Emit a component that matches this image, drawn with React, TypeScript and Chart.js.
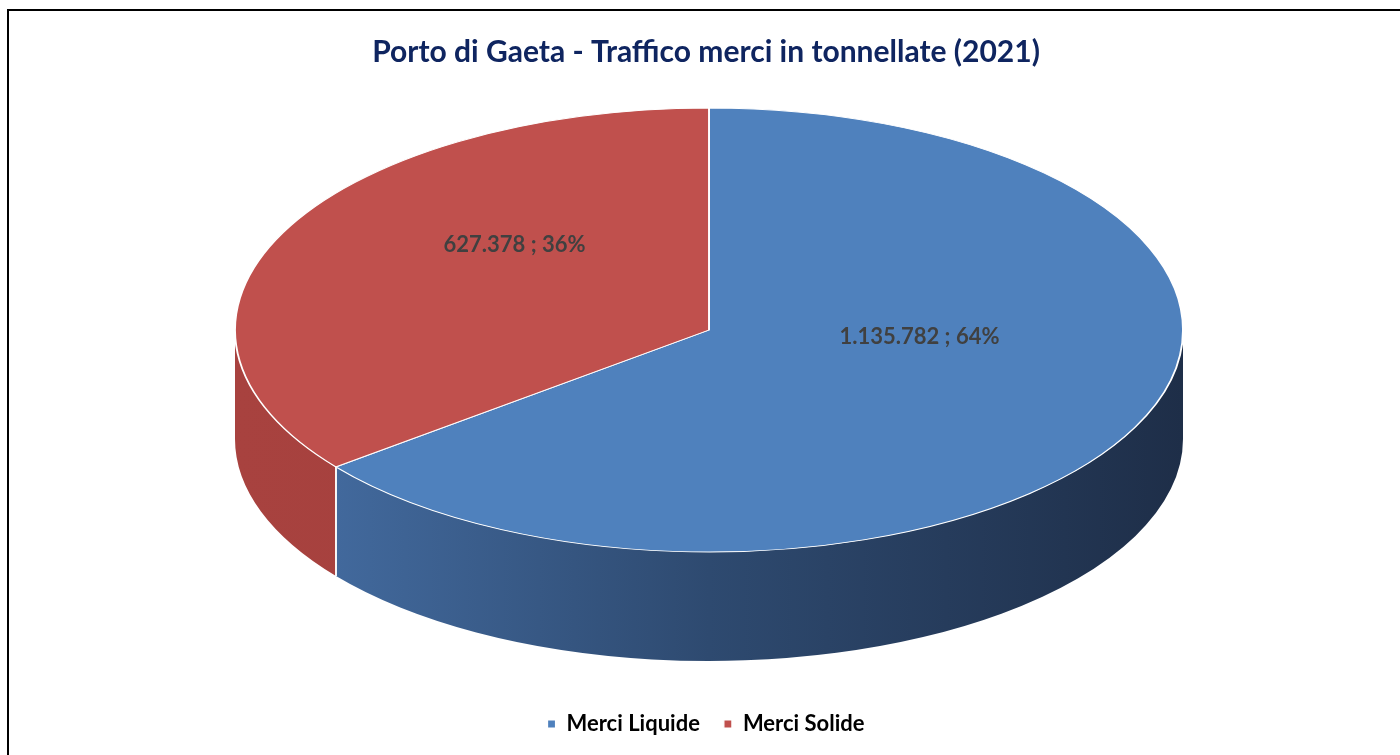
import React, { useEffect, useRef } from "react";
import { Chart, registerables } from "chart.js";

Chart.register(...registerables);

const TITLE = "Porto di Gaeta - Traffico merci in tonnellate (2021)";
const categories = ["Merci Liquide", "Merci Solide"];
const tonnes = [1135782, 627378];
const topColors = ["#4F81BD", "#C0504D"];
const sideColors = [
  ["#4771A8", "#2E4A70", "#1E2E48"],
  ["#A8423F", "#9C3C39"],
];

// layout of the projected (tilted) pie
const PIE_CX = 709;
const PIE_CY = 330;
const RX = 474;
const RY = 222;
const DEPTH = 109;
const LABEL_DX = 8;
const LABEL_DY = -39;
const LABEL_F = 0.475;

const FONT = "Lato, 'Open Sans', 'DejaVu Sans', sans-serif";

function fmtIt(n: number): string {
  return String(n).replace(/\B(?=(\d{3})+(?!\d))/g, ".");
}

const pie3d = {
  id: "pie3d",
  beforeDatasetsDraw(chart: any) {
    const ctx = chart.ctx as CanvasRenderingContext2D;
    const meta = chart.getDatasetMeta(0);
    ctx.save();
    const seams: number[] = [];
    meta.data.forEach((arc: any, i: number) => {
      const s = arc.startAngle;
      const e = arc.endAngle;
      for (const shift of [-2 * Math.PI, 0, 2 * Math.PI]) {
        const a1 = Math.max(s + shift, 0);
        const a2 = Math.min(e + shift, Math.PI);
        if (a2 <= a1) continue;
        const x2 = PIE_CX + RX * Math.cos(a2);
        const grad = ctx.createLinearGradient(PIE_CX - RX, 0, PIE_CX + RX, 0);
        const cols = sideColors[i];
        cols.forEach((c, k) => grad.addColorStop(k / (cols.length - 1), c));
        ctx.beginPath();
        ctx.ellipse(PIE_CX, PIE_CY, RX, RY, 0, a1, a2, false);
        ctx.lineTo(x2, PIE_CY + DEPTH + RY * Math.sin(a2));
        ctx.ellipse(PIE_CX, PIE_CY + DEPTH, RX, RY, 0, a2, a1, true);
        ctx.closePath();
        ctx.fillStyle = grad;
        ctx.fill();
        if (a1 > 0.001 && a1 < Math.PI - 0.001) seams.push(a1);
        if (a2 > 0.001 && a2 < Math.PI - 0.001) seams.push(a2);
      }
    });
    ctx.strokeStyle = "#FFFFFF";
    ctx.lineWidth = 1.5;
    seams.forEach((a) => {
      const x = PIE_CX + RX * Math.cos(a);
      const y = PIE_CY + RY * Math.sin(a);
      ctx.beginPath();
      ctx.moveTo(x, y);
      ctx.lineTo(x, y + DEPTH);
      ctx.stroke();
    });
    ctx.restore();
  },
  beforeDatasetDraw(chart: any) {
    const ctx = chart.ctx as CanvasRenderingContext2D;
    const arc = chart.getDatasetMeta(0).data[0] as any;
    const r = arc.outerRadius;
    ctx.save();
    ctx.translate(PIE_CX, PIE_CY);
    ctx.scale(RX / r, RY / r);
    ctx.translate(-arc.x, -arc.y);
  },
  afterDatasetDraw(chart: any) {
    chart.ctx.restore();
  },
  afterDatasetsDraw(chart: any) {
    const ctx = chart.ctx as CanvasRenderingContext2D;
    const meta = chart.getDatasetMeta(0);
    const total = tonnes.reduce((a, b) => a + b, 0);
    ctx.save();
    ctx.font = `bold 22px ${FONT}`;
    ctx.fillStyle = "#404040";
    ctx.textAlign = "center";
    ctx.textBaseline = "middle";
    meta.data.forEach((arc: any, i: number) => {
      const mid = (arc.startAngle + arc.endAngle) / 2;
      const x = PIE_CX + LABEL_DX + LABEL_F * RX * Math.cos(mid);
      const y = PIE_CY + LABEL_DY + LABEL_F * RY * Math.sin(mid);
      const pct = Math.round((tonnes[i] / total) * 100);
      ctx.fillText(`${fmtIt(tonnes[i])} ; ${pct}%`, x, y);
    });
    ctx.restore();
  },
};

export default function App() {
  const ref = useRef<HTMLCanvasElement | null>(null);
  useEffect(() => {
    if (!ref.current) return;
    const chart = new Chart(ref.current, {
      type: "pie",
      data: {
        labels: categories,
        datasets: [
          {
            data: tonnes,
            backgroundColor: topColors,
            borderColor: "#FFFFFF",
            borderWidth: 1.2,
          },
        ],
      },
      options: {
        responsive: false,
        animation: false,
        events: [],
        layout: { padding: { top: 0, bottom: 10, left: 12, right: 0 } },
        plugins: {
          title: {
            display: true,
            text: TITLE,
            color: "#0F2560",
            font: { family: FONT, size: 30, weight: "bold" },
            padding: { top: 34, bottom: 20 },
          },
          legend: {
            position: "bottom",
            labels: {
              color: "#000000",
              font: { family: FONT, size: 22, weight: "bold" },
              boxWidth: 8,
              boxHeight: 8,
              padding: 24,
            },
          },
          tooltip: { enabled: false },
        },
      },
      plugins: [pie3d],
    });
    return () => chart.destroy();
  }, []);
  return (
    <div>
      <canvas
        ref={ref}
        width={1400}
        height={755}
        style={{ position: "fixed", left: 0, top: 0, width: 1400, height: 755 }}
      />
      <div
        style={{
          position: "fixed",
          left: 7,
          top: 9,
          width: 1400,
          height: 760,
          border: "2px solid #000",
          pointerEvents: "none",
        }}
      />
    </div>
  );
}
